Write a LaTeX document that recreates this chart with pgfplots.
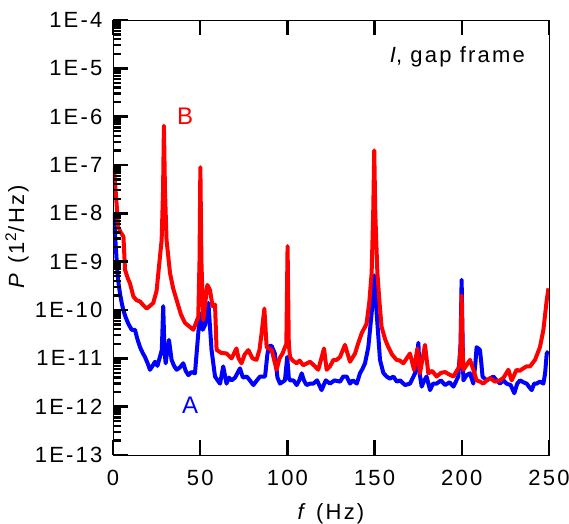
\documentclass[border=0pt]{standalone}
\usepackage{fontspec}
\setmainfont[LetterSpace=10]{Liberation Sans}
\usepackage{pgfplots}
\pgfplotsset{compat=1.18}
\begin{document}
\begin{tikzpicture}
\useasboundingbox (-56.5pt,-34.5pt) rectangle (228pt,227.5pt);
\begin{axis}[
  at={(0,0)}, anchor=south west,
  scale only axis,
  width=218pt, height=217.5pt,
  ymode=log,
  xmin=0, xmax=250, ymin=1e-13, ymax=1e-4,
  xtick={0,50,100,150,200,250},
  xticklabels={0,50,100,150,200,250},
  ytick={1e-13,1e-12,1e-11,1e-10,1e-9,1e-8,1e-7,1e-6,1e-5,1e-4},
  yticklabels={1E-13,1E-12,1E-11,1E-10,1E-9,1E-8,1E-7,1E-6,1E-5,1E-4},
  xtick pos=both, xticklabel pos=lower,
  ytick pos=left,
  tick align=inside,
  axis on top=true,
  major tick length=7.5pt, minor tick length=4pt,
  tick style={draw=black, line width=1.2pt},
  ticklabel style={font=\fontsize{11}{13}\selectfont},
  yticklabel style={xshift=-1.8pt},
  xticklabel style={yshift=-3.8pt},
  xlabel={\textit{f} (Hz)},
  ylabel={\textit{P} (1\textsuperscript{2}/Hz)},
  label style={font=\fontsize{11}{13}\selectfont},
  xlabel style={at={(axis description cs:0.5,-0.136)}, anchor=center},
  ylabel style={at={(axis description cs:-0.22,0.501)}, anchor=center},
]
\addplot[blue, line width=2pt, line join=round] coordinates {
(0.3,1e-8)(0.6,8.5e-9)(1.3,3e-9)(2.1,1.07e-9)(3,4e-10)(4,2.2e-10)(5,1.4e-10)(5.9,1e-10)
(7.3,7e-11)(8.8,5.2e-11)(10.7,3.9e-11)(12.6,3.9e-11)(14,2.5e-11)(15.5,1.7e-11)(17,1.3e-11)
(18.3,1.07e-11)(19.8,8e-12)(21.2,5.8e-12)(22.7,7e-12)(24.1,8.5e-12)(25.5,7e-12)(26.9,1.07e-11)
(28,1.5e-11)(28.8,1.2e-10)(29.5,1.5e-11)(30.2,7.9e-12)(31.2,1.5e-11)(32.1,2.4e-11)(33.6,9.3e-12)
(35,7e-12)(36.5,5.8e-12)(38.4,6.5e-12)(40.3,7.9e-12)(41.7,5.5e-12)(43.2,4.5e-12)(45,5.2e-12)
(47,4.9e-12)(48.9,3.3e-11)(49.9,8.5e-11)(51.4,3.9e-11)(52.9,5e-11)(54.7,1.4e-10)(56.5,1.5e-11)
(58.5,4.2e-12)(60,3.5e-12)(61.4,3e-12)(63.2,6.8e-12)(65.1,3e-12)(66.5,4e-12)(68,3.5e-12)
(70,4e-12)(72.8,6.2e-12)(74.5,4e-12)(76.7,4.2e-12)(78.5,3.5e-12)(80.5,2.8e-12)(82.5,3.5e-12)
(84.3,4.2e-12)(87.2,4.2e-12)(88.5,1.2e-11)(89.5,1.8e-11)(91,1.8e-11)(92.8,1.26e-11)(94.3,4e-12)
(95.8,3e-12)(98.6,3.5e-12)(99.9,1.07e-11)(100.8,4e-12)(101.5,3.5e-12)(103.5,3.5e-12)
(105.3,2.8e-12)(106.8,3.5e-12)(108.2,4.9e-12)(109.5,3.5e-12)(111,2.8e-12)(113,3e-12)
(114.9,3e-12)(117,3.5e-12)(119.6,2.2e-12)(122,3.5e-12)(124.4,3e-12)(127,3.5e-12)(130.2,3.3e-12)
(132,4.2e-12)(134,4.2e-12)(135.9,3e-12)(137.5,3.5e-12)(139.8,3e-12)(141.6,4.9e-12)(143,6e-12)
(144.5,7.9e-12)(146.4,1.7e-11)(148.3,8.5e-11)(149.8,5.2e-10)(151.2,8.5e-11)(153.1,9.3e-12)
(155,5e-12)(156.9,4.2e-12)(158.8,3.8e-12)(160.8,4.2e-12)(162.7,3.3e-12)(164.6,3.5e-12)
(167.4,2.8e-12)(170.3,3e-12)(173.2,4.9e-12)(174.5,1.2e-11)(175.1,2.1e-11)(175.8,5e-12)
(177,2.6e-12)(178.5,3.5e-12)(179.8,4.2e-12)(181.8,2.2e-12)(183.5,3e-12)(185.6,3e-12)
(188,3.5e-12)(190.4,2.8e-12)(193,3.2e-12)(195.2,2.6e-12)(198,4.2e-12)(199.3,2e-11)
(199.9,4.2e-10)(200.5,2e-11)(200.9,3.5e-12)(202.8,4.5e-12)(204.7,4.9e-12)(206.6,3e-12)
(207.8,8e-12)(208.5,1.7e-11)(210.4,1.5e-11)(211.2,8e-12)(211.9,4.2e-12)(214.2,3.5e-12)
(216,3.8e-12)(218.1,4.2e-12)(220,3.5e-12)(221.9,3e-12)(223.8,3.5e-12)(225.7,3e-12)
(228,2.8e-12)(230.1,1.9e-12)(231.8,3e-12)(233.4,3.5e-12)(235.3,3.2e-12)(237.2,3e-12)
(238.8,2.5e-12)(240.1,2.2e-12)(241.5,3e-12)(242.9,3e-12)(244.8,3.3e-12)(246.8,3e-12)
(247.8,5e-12)(248.7,1.26e-11)(249.7,1.4e-11)
};
\addplot[red, line width=2pt, line join=round] coordinates {
(0.5,8.5e-8)(1.5,3e-8)(3,5.2e-9)(4.5,4e-9)(6,3.3e-9)(6.9,6.8e-10)(8.5,4.5e-10)(9.7,3.6e-10)
(11.7,1.9e-10)(13.5,1.6e-10)(15.5,1.5e-10)(17,1.3e-10)(19.3,1.07e-10)(21,1.2e-10)(23.1,1.4e-10)
(25,2.5e-10)(26,5.8e-10)(27.9,2.8e-9)(28.7,3e-8)(29.2,6.5e-7)(29.8,3e-8)(30.7,2.8e-9)
(32.7,5.8e-10)(34.5,2.8e-10)(36.5,1.6e-10)(39,8e-11)(41.3,5.4e-11)(44,4.5e-11)(46.1,3.9e-11)
(48.9,7.2e-11)(49.6,1e-9)(50.1,9e-8)(50.7,1e-9)(51.8,6.2e-11)(53,1.5e-10)(54.1,3.3e-10)
(55.6,2.6e-10)(57.1,1.2e-10)(58.5,1.3e-10)(59.4,1.5e-11)(62,1.3e-11)(65.1,1.26e-11)(68,1e-11)
(70.8,1.6e-11)(72,1e-11)(73.7,7.9e-12)(75.5,1.2e-11)(77.6,1.48e-11)(80,1e-11)(82.3,9.3e-12)
(84,1.5e-11)(85.2,3.3e-11)(86.8,1.07e-10)(88.1,1.7e-11)(91,1.48e-11)(93.8,5.8e-12)(95.5,1e-11)
(97.2,1.26e-11)(99.4,2e-11)(100.1,2.1e-9)(100.8,2e-11)(101.5,1.07e-11)(103,9e-12)(105.3,7.9e-12)
(107,9e-12)(109.1,7.2e-12)(113,8.5e-12)(115.5,7e-12)(117.7,5.8e-12)(121,1.6e-11)(122.5,5.8e-12)
(124.4,6.8e-12)(126.4,9.3e-12)(128.3,9.3e-12)(130.2,1.07e-11)(133,1.9e-11)(135.9,8.5e-12)
(138.8,1.26e-11)(140.5,2e-11)(142.6,3.3e-11)(145.4,5.2e-11)(147,1.5e-10)(148.3,5.8e-10)
(149.2,1e-8)(149.8,2e-7)(150.4,1e-8)(151.6,5.8e-10)(153,1.2e-10)(154,4.5e-11)(156,2.5e-11)
(157.9,1.7e-11)(160,1.2e-11)(162.6,9.3e-12)(164.5,9e-12)(166.5,7.9e-12)(170.3,1.26e-11)
(172.6,5.8e-12)(174.5,1.6e-11)(176,4.9e-12)(178.9,1.9e-11)(180.8,4.9e-12)(183,5.5e-12)
(185.6,4.2e-12)(188,5e-12)(190.4,5.2e-12)(193,4.6e-12)(195.2,4.2e-12)(198.6,6.8e-12)
(199.4,2e-11)(199.9,2e-10)(200.4,2e-11)(200.9,5.8e-12)(202.5,7e-12)(204.7,9.3e-12)(206.5,6e-12)
(208.5,3.5e-12)(210.5,3.3e-12)(212.3,3e-12)(214,3.4e-12)(216.2,3.9e-12)(219,3.3e-12)
(221.9,3.5e-12)(224,4e-12)(226.7,5.8e-12)(228.6,3.5e-12)(231.4,5.8e-12)(233,5.5e-12)
(235.3,6.2e-12)(237,6.8e-12)(239.1,6.8e-12)(242,9.3e-12)(244.8,1.7e-11)(246.8,3.9e-11)
(248.7,1.6e-10)(249.7,2.8e-10)
};
\node[red, font=\fontsize{12}{14}\selectfont] at (axis cs:41.3,1e-6) {B};
\node[blue, font=\fontsize{12}{14}\selectfont] at (axis cs:44.2,1.07e-12) {A};
\node[anchor=east, font=\fontsize{11}{13}\selectfont] at (axis description cs:0.961,0.915) {\textit{I}, gap frame};
\end{axis}
\end{tikzpicture}
\end{document}
